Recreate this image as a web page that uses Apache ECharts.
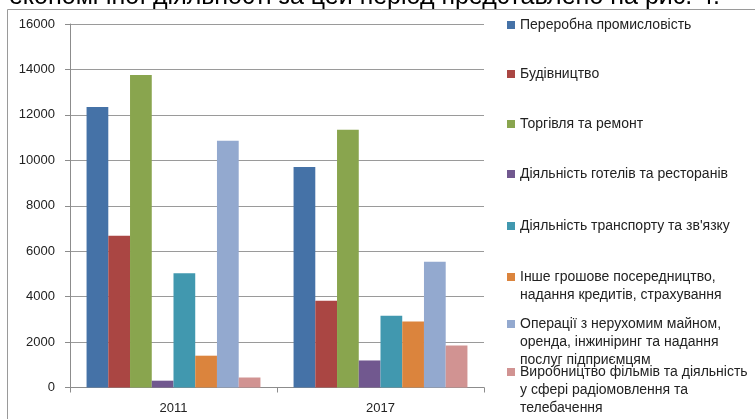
<!DOCTYPE html>
<html><head><meta charset="utf-8">
<script src="https://cdn.jsdelivr.net/npm/echarts@6/dist/echarts.min.js"></script>
<style>html,body{margin:0;padding:0;background:#fff}#c{width:755px;height:419px}</style>
</head><body><div id="c"></div>
<script>
const categories = ['2011', '2017'];
const legendLines = [
  ['Переробна промисловість'],
  ['Будівництво'],
  ['Торгівля та ремонт'],
  ['Діяльність готелів та ресторанів'],
  ["Діяльність транспорту та зв'язку"],
  ['Інше грошове посередництво,', 'надання кредитів, страхування'],
  ['Операції з нерухомим майном,', 'оренда, інжиніринг та надання', 'послуг підприємцям'],
  ['Виробництво фільмів та діяльність', 'у сфері радіомовлення та', 'телебачення']
];
const values2011 = [12350, 6680, 13760, 300, 5030, 1400, 10860, 440];
const values2017 = [9710, 3820, 11340, 1190, 3160, 2900, 5540, 1850];
const yMin = 0, yMax = 16000, yInterval = 2000;
const headerText = 'економічної діяльності за цей період представлено на рис. 4.';

const colors = ['#4572A7', '#AA4643', '#89A54E', '#71588F', '#4198AF', '#DB843D', '#93A9CF', '#D19392'];
const seriesNames = legendLines.map(l => l.join(' '));
const FONT = 'Liberation Sans';
const LH = 18;
const legendCenters = [25, 74, 124, 174, 226, 277, 324, 372];

const chart = echarts.init(document.getElementById('c'));
const legends = seriesNames.map((name, i) => {
  const n = legendLines[i].length;
  const blank = new Array(n - 1).fill(' ');
  return {
    data: [name],
    orient: 'vertical',
    left: 507,
    top: legendCenters[i] - ((2 * n - 1) * LH) / 2,
    padding: 0,
    itemWidth: 8,
    itemHeight: 8,
    icon: 'rect',
    selectedMode: false,
    formatter: () => blank.concat(legendLines[i]).join('\n'),
    textStyle: { fontFamily: FONT, fontSize: 14, color: '#222', lineHeight: LH }
  };
});

chart.setOption({
  animation: false,
  color: colors,
  textStyle: { fontFamily: FONT },
  graphic: [
    { type: 'rect', silent: true, z: -1, shape: { x: 7.5, y: 9.5, width: 800, height: 500 },
      style: { fill: 'none', stroke: '#9a9a9a', lineWidth: 1 } },
    { type: 'text', silent: true, x: 720, y: 10,
      style: { text: headerText, font: '25px "Liberation Sans"', fill: '#000', align: 'right', verticalAlign: 'bottom' } }
  ],
  legend: legends,
  grid: { left: 70, right: 271, top: 24, bottom: 31.5, containLabel: false },
  xAxis: {
    type: 'category',
    data: categories,
    axisLine: { lineStyle: { color: '#8c8c8c' } },
    axisTick: { show: true, length: 5, lineStyle: { color: '#8c8c8c' } },
    axisLabel: { fontFamily: FONT, fontSize: 13, color: '#222', margin: 14 }
  },
  yAxis: {
    type: 'value',
    min: yMin, max: yMax, interval: yInterval,
    axisLine: { show: true, lineStyle: { color: '#8c8c8c' } },
    axisTick: { show: true, length: 5, lineStyle: { color: '#8c8c8c' } },
    splitLine: { lineStyle: { color: '#9a9a9a' } },
    axisLabel: { fontFamily: FONT, fontSize: 13, color: '#222', margin: 15, formatter: v => String(v) }
  },
  series: seriesNames.map((name, i) => ({
    name,
    type: 'bar',
    data: [values2011[i], values2017[i]],
    barGap: '0%',
    barCategoryGap: '16%',
    itemStyle: { color: colors[i] }
  }))
});
</script>
</body></html>
